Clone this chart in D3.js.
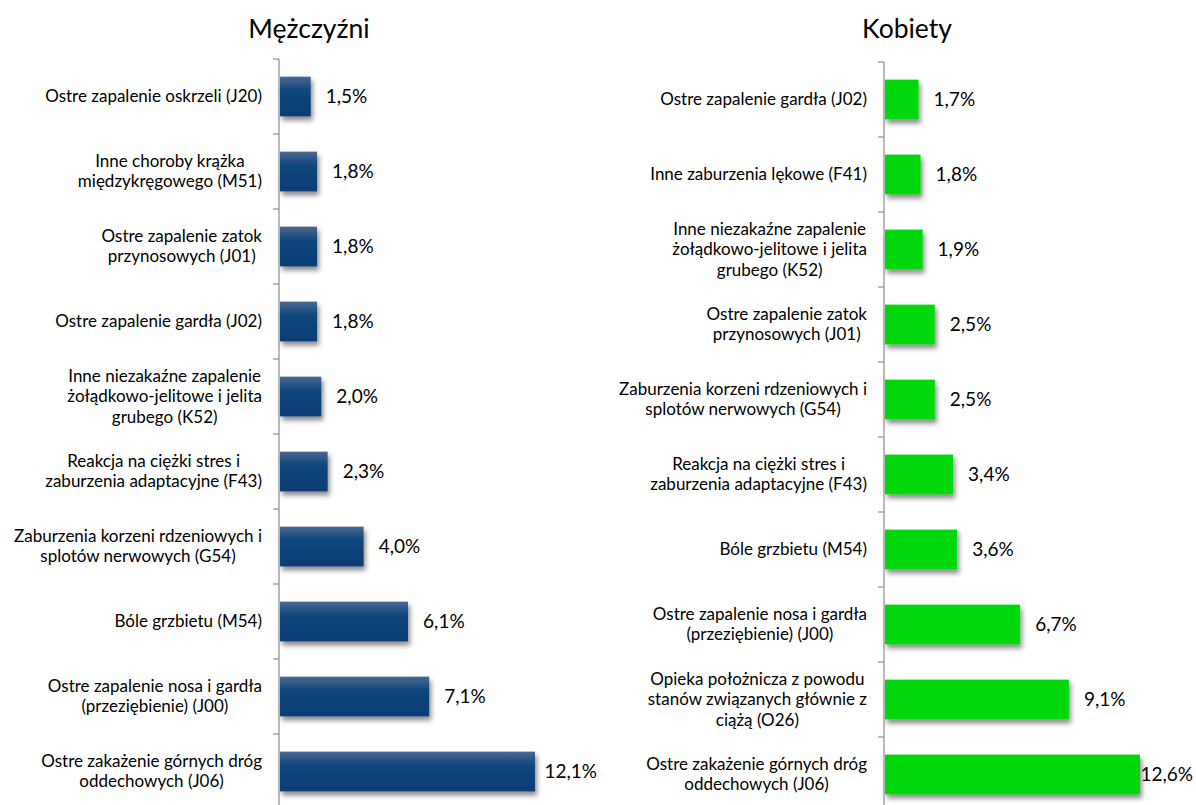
<!DOCTYPE html>
<html>
<head>
<meta charset="utf-8">
<script src="https://cdn.jsdelivr.net/npm/d3@7"></script>
<style>
  html, body { margin: 0; padding: 0; background: #fff; }
  svg { display: block; font-family: Lato, "Open Sans", sans-serif; }
</style>
</head>
<body>
<svg id="chart" width="1196" height="805"></svg>
<script>
// ---- Data ----
const titleMen = "Mężczyźni";
const titleWomen = "Kobiety";

const menCategories = [
  ["Ostre zapalenie oskrzeli (J20)"],
  ["Inne choroby krążka", "międzykręgowego (M51)"],
  ["Ostre zapalenie zatok", "przynosowych (J01)"],
  ["Ostre zapalenie gardła (J02)"],
  ["Inne niezakaźne zapalenie", "żołądkowo-jelitowe i jelita", "grubego (K52)"],
  ["Reakcja na ciężki stres i", "zaburzenia adaptacyjne (F43)"],
  ["Zaburzenia korzeni rdzeniowych i", "splotów nerwowych (G54)"],
  ["Bóle grzbietu (M54)"],
  ["Ostre zapalenie nosa i gardła", "(przeziębienie) (J00)"],
  ["Ostre zakażenie górnych dróg", "oddechowych (J06)"]
];
const menValues = [1.5, 1.8, 1.8, 1.8, 2.0, 2.3, 4.0, 6.1, 7.1, 12.1];

const womenCategories = [
  ["Ostre zapalenie gardła (J02)"],
  ["Inne zaburzenia lękowe (F41)"],
  ["Inne niezakaźne zapalenie", "żołądkowo-jelitowe i jelita", "grubego (K52)"],
  ["Ostre zapalenie zatok", "przynosowych (J01)"],
  ["Zaburzenia korzeni rdzeniowych i", "splotów nerwowych (G54)"],
  ["Reakcja na ciężki stres i", "zaburzenia adaptacyjne (F43)"],
  ["Bóle grzbietu (M54)"],
  ["Ostre zapalenie nosa i gardła", "(przeziębienie) (J00)"],
  ["Opieka położnicza z powodu", "stanów związanych głównie z", "ciążą (O26)"],
  ["Ostre zakażenie górnych dróg", "oddechowych (J06)"]
];
const womenValues = [1.7, 1.8, 1.9, 2.5, 2.5, 3.4, 3.6, 6.7, 9.1, 12.6];

// ---- Rendering ----
const svg = d3.select("#chart");
const defs = svg.append("defs");

const grad = defs.append("linearGradient").attr("id", "blueGrad")
  .attr("x1", 0).attr("y1", 0).attr("x2", 0).attr("y2", 1);
grad.append("stop").attr("offset", "0%").attr("stop-color", "#4b6990");
grad.append("stop").attr("offset", "35%").attr("stop-color", "#0e467c");
grad.append("stop").attr("offset", "100%").attr("stop-color", "#073d75");

const shadow = defs.append("filter").attr("id", "shadow")
  .attr("x", "-10%").attr("y", "-20%").attr("width", "130%").attr("height", "160%");
shadow.append("feDropShadow").attr("dx", 2).attr("dy", 4).attr("stdDeviation", 2.5)
  .attr("flood-color", "#000").attr("flood-opacity", 0.45);

const fmt = v => d3.format(".1f")(v).replace(".", ",") + "%";

function panel(opts) {
  const { cats, vals, title, titleX, axisX, xMax, xRight, yTop, fill, labelMaxRight } = opts;
  const keys = cats.map((c, i) => i);
  const y = d3.scaleBand().domain(keys).range([yTop, yTop + 750])
    .paddingInner(0.47).paddingOuter(0.235);
  const x = d3.scaleLinear().domain([0, xMax]).range([axisX, xRight]);
  const g = svg.append("g");

  g.append("text").attr("x", titleX).attr("y", 38)
    .attr("text-anchor", "middle").attr("font-size", 26.5).attr("fill", "#000")
    .text(title);

  // bars
  g.selectAll("rect.bar").data(vals).enter().append("rect")
    .attr("class", "bar")
    .attr("x", x(0) + 1)
    .attr("y", (d, i) => y(i))
    .attr("width", d => x(d) - x(0) - 1)
    .attr("height", y.bandwidth())
    .attr("fill", fill)
    .attr("filter", "url(#shadow)");

  // axis line & ticks between categories
  const step = y.step();
  g.append("line").attr("x1", axisX).attr("x2", axisX)
    .attr("y1", yTop).attr("y2", yTop + 750)
    .attr("stroke", "#8c8c8c").attr("stroke-width", 1.2);
  const tickYs = d3.range(0, keys.length + 1).map(k => yTop + k * step);
  g.selectAll("line.tick").data(tickYs).enter().append("line")
    .attr("x1", axisX - 6).attr("x2", axisX)
    .attr("y1", d => d).attr("y2", d => d)
    .attr("stroke", "#8c8c8c").attr("stroke-width", 1.2);

  // category labels
  const lh = 20.5;
  cats.forEach((lines, i) => {
    const cy = y(i) + y.bandwidth() / 2;
    const t = g.append("text").attr("font-size", 17).attr("fill", "#000")
      .attr("text-anchor", "middle");
    const spans = lines.map((ln, j) => t.append("tspan").text(ln)
      .attr("y", cy + (j - (lines.length - 1) / 2) * lh + 5.5));
    let maxW = 0;
    spans.forEach(s => { maxW = Math.max(maxW, s.node().getComputedTextLength()); });
    const cx = axisX - 17 - maxW / 2;
    spans.forEach(s => s.attr("x", cx));
  });

  // value labels
  vals.forEach((v, i) => {
    const cy = y(i) + y.bandwidth() / 2;
    const t = g.append("text").attr("font-size", 19).attr("fill", "#000")
      .attr("y", cy + 6.5).text(fmt(v));
    const w = t.node().getComputedTextLength();
    let lx = x(v) + 15;
    if (lx + w > labelMaxRight) lx = Math.max(x(v), labelMaxRight - w);
    t.attr("x", lx);
  });
}

panel({
  cats: menCategories, vals: menValues, title: titleMen, titleX: 309,
  axisX: 279, xMax: 12.1, xRight: 535, yTop: 59, fill: "url(#blueGrad)",
  labelMaxRight: 597
});
panel({
  cats: womenCategories, vals: womenValues, title: titleWomen, titleX: 907,
  axisX: 884, xMax: 12.6, xRight: 1140, yTop: 62, fill: "#00d80a",
  labelMaxRight: 1193
});
</script>
</body>
</html>
